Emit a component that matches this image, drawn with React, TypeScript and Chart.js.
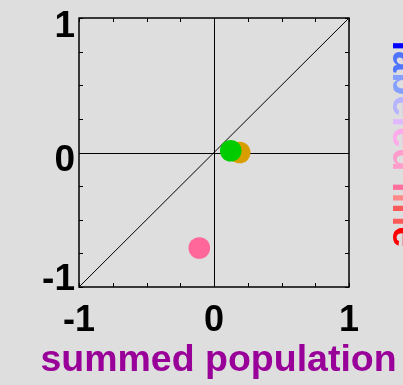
import { useEffect, useRef } from 'react';
import { Chart, registerables } from 'chart.js';

Chart.register(...registerables);

// Axis ticks (labelled) and the spacing of the small inward tick marks
const xTickValues = [-1, 0, 1];
const yTickValues = [-1, 0, 1];
const minorStep = 0.25;

// Markers: summed population (x) against labeled line (y)
const summedPopulation = [0.19, 0.124, -0.109];
const labeledLine = [0.0, 0.013, -0.71];
const markerColors = ['#d89e00', '#00cc00', '#ff6699'];

// Reference diagonal y = x
const diagonalX = [-1, 1];
const diagonalY = [-1, 1];

// Axis captions
const xTitle = 'summed population';
const sideLabel = 'labeled line';
const sideLabelColors = [
  '#0000ff', '#4f74ff', '#86a0ff', '#b6b4ff', '#e0b8ff', '#ffaaea',
  '#ff9ccc', '#ff9ccc', '#ff6f9c', '#ff8a8a', '#ff5a5a', '#ff0000',
];

const FONT = '"Liberation Sans", Arial, Helvetica, sans-serif';
const BG = '#dedede';

const framePlugin = {
  id: 'frame',
  beforeDraw(chart: any) {
    const { ctx, width, height } = chart;
    ctx.save();
    ctx.fillStyle = BG;
    ctx.fillRect(0, 0, width, height);
    ctx.restore();
  },
  beforeDatasetsDraw(chart: any) {
    const { ctx, chartArea: a, scales } = chart;
    const x0 = scales.x.getPixelForValue(0);
    const y0 = scales.y.getPixelForValue(0);
    ctx.save();
    ctx.strokeStyle = '#000';
    ctx.lineWidth = 1;
    ctx.beginPath();
    ctx.moveTo(Math.round(x0) + 0.5, a.top);
    ctx.lineTo(Math.round(x0) + 0.5, a.bottom);
    ctx.moveTo(a.left, Math.round(y0) + 0.5);
    ctx.lineTo(a.right, Math.round(y0) + 0.5);
    ctx.stroke();
    ctx.restore();
  },
  afterDatasetsDraw(chart: any) {
    const { ctx, chartArea: a, scales } = chart;
    const tickLen = 4;
    const xs = scales.x;
    const ys = scales.y;
    ctx.save();
    ctx.strokeStyle = '#000';
    ctx.lineWidth = 1;
    ctx.beginPath();
    for (let v = xs.min; v <= xs.max + 1e-9; v += minorStep) {
      const px = Math.round(xs.getPixelForValue(v)) + 0.5;
      ctx.moveTo(px, a.bottom);
      ctx.lineTo(px, a.bottom - tickLen);
      ctx.moveTo(px, a.top);
      ctx.lineTo(px, a.top + tickLen);
    }
    for (let v = ys.min; v <= ys.max + 1e-9; v += minorStep) {
      const py = Math.round(ys.getPixelForValue(v)) + 0.5;
      ctx.moveTo(a.left, py);
      ctx.lineTo(a.left + tickLen, py);
      ctx.moveTo(a.right, py);
      ctx.lineTo(a.right - tickLen, py);
    }
    ctx.stroke();
    ctx.lineWidth = 1.5;
    ctx.strokeRect(a.left, a.top, a.right - a.left, a.bottom - a.top);
    ctx.restore();
  },
  afterDraw(chart: any) {
    const { ctx, chartArea: a, scales } = chart;
    ctx.save();

    // y tick labels, the lowest kept clear of the x-axis labels
    ctx.font = `bold 37px ${FONT}`;
    ctx.fillStyle = '#000';
    ctx.textAlign = 'right';
    ctx.textBaseline = 'alphabetic';
    for (const t of scales.y.ticks) {
      const py = scales.y.getPixelForValue(t.value);
      const base = Math.min(py + 18.5, a.bottom + 3);
      ctx.fillText(String(t.value), a.left - 4, base);
    }

    // x-axis caption, centred under the plot
    ctx.font = `bold 37.5px ${FONT}`;
    ctx.fillStyle = '#990099';
    ctx.textAlign = 'center';
    ctx.fillText(xTitle, (a.left + a.right) / 2 + 4.5, 371);

    // right-hand caption, reading top to bottom
    ctx.translate(a.right + 44, a.top + 22.5);
    ctx.rotate(Math.PI / 2);
    ctx.font = `bold 38px ${FONT}`;
    ctx.textAlign = 'left';
    let x = 0;
    for (let i = 0; i < sideLabel.length; i++) {
      const ch = sideLabel[i];
      ctx.fillStyle = sideLabelColors[i];
      ctx.fillText(ch, x, 0);
      x += ctx.measureText(ch).width;
    }
    ctx.restore();
  },
};

export default function App() {
  const canvasRef = useRef<HTMLCanvasElement | null>(null);

  useEffect(() => {
    const canvas = canvasRef.current;
    if (!canvas) return;
    const chart = new Chart(canvas, {
      type: 'scatter',
      data: {
        datasets: [
          {
            type: 'scatter',
            data: summedPopulation.map((v, i) => ({ x: v, y: labeledLine[i] })),
            pointBackgroundColor: markerColors,
            pointBorderWidth: 0,
            pointRadius: 10.8,
            pointHoverRadius: 10.8,
            order: 0,
          },
          {
            type: 'line',
            data: diagonalX.map((v, i) => ({ x: v, y: diagonalY[i] })),
            borderColor: '#000',
            borderWidth: 1,
            pointRadius: 0,
            showLine: true,
            fill: false,
            order: 1,
          } as any,
        ],
      },
      options: {
        responsive: false,
        animation: false,
        events: [],
        layout: { padding: { top: 18, right: 54, left: 0, bottom: 0 } },
        plugins: {
          legend: { display: false },
          tooltip: { enabled: false },
        },
        scales: {
          x: {
            type: 'linear',
            min: -1,
            max: 1,
            afterBuildTicks: (s: any) => {
              s.ticks = xTickValues.map((v) => ({ value: v }));
            },
            afterFit: (s: any) => {
              s.height = 98;
            },
            grid: { display: false, drawTicks: false },
            border: { display: false },
            ticks: {
              color: '#000',
              font: { family: FONT, size: 36, weight: 'bold' },
              padding: 12,
              maxRotation: 0,
              autoSkip: false,
              callback: (v: any) => String(v),
            },
          },
          y: {
            type: 'linear',
            min: -1,
            max: 1,
            afterBuildTicks: (s: any) => {
              s.ticks = yTickValues.map((v) => ({ value: v }));
            },
            afterFit: (s: any) => {
              s.width = 79;
            },
            grid: { display: false, drawTicks: false },
            border: { display: false },
            ticks: { display: false },
          },
        },
      } as any,
      plugins: [framePlugin],
    });
    return () => chart.destroy();
  }, []);

  return (
    <div style={{ position: 'fixed', left: 0, top: 0, width: 403, height: 385, background: BG }}>
      <canvas ref={canvasRef} width={403} height={385} style={{ display: 'block' }} />
    </div>
  );
}
